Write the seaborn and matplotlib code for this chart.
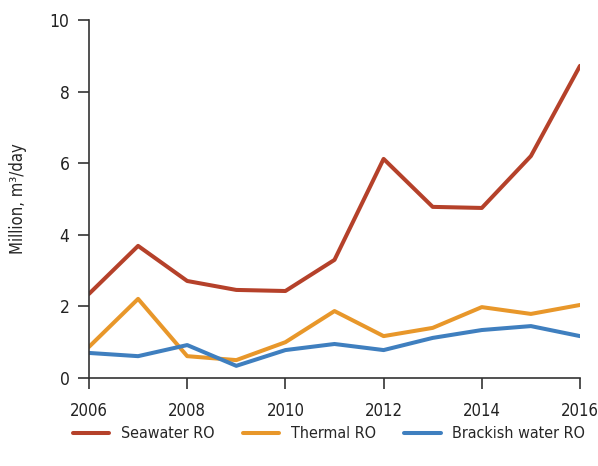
import seaborn as sns
import pandas as pd
import matplotlib.pyplot as plt

years = list(range(2006, 2017))
seawater = [2.35, 3.69, 2.71, 2.46, 2.43, 3.30, 6.12, 4.78, 4.75, 6.20, 8.72]
thermal = [0.87, 2.21, 0.61, 0.50, 1.00, 1.87, 1.17, 1.40, 1.98, 1.79, 2.04]
brackish = [0.70, 0.61, 0.92, 0.34, 0.78, 0.95, 0.78, 1.12, 1.34, 1.45, 1.17]
series_names = ['Seawater RO', 'Thermal RO', 'Brackish water RO']
colors = ['#b5412a', '#e8972a', '#3f7fbf']

df = pd.DataFrame({'year': years, series_names[0]: seawater,
                   series_names[1]: thermal, series_names[2]: brackish})
long_df = df.melt(id_vars='year', var_name='type', value_name='value')

sns.set_style('white')
plt.rcParams['font.family'] = ['DejaVu Sans']
plt.rcParams['font.stretch'] = 'condensed'

fig = plt.figure(figsize=(5.98, 4.66), dpi=100)
ax = fig.add_axes([89 / 598, 88 / 466, 491 / 598, 358 / 466])
sns.lineplot(data=long_df, x='year', y='value', hue='type', palette=colors,
             hue_order=series_names, linewidth=2.9, ax=ax)

ax.set_xlim(2006, 2016)
ax.set_ylim(0, 10)
ax.set_xticks(range(2006, 2017, 2))
ax.set_yticks(range(0, 11, 2))
ax.set_xlabel('')
ax.set_ylabel('Million, m³/day', fontsize=12, labelpad=16)
sns.despine(ax=ax)
for s in ['left', 'bottom']:
    ax.spines[s].set_color('#333333')
    ax.spines[s].set_linewidth(1.2)
ax.tick_params(axis='both', direction='out', length=8, width=1.2,
               bottom=True, left=True,
               color='#333333', labelsize=12.5, labelcolor='#222222', pad=6)
ax.tick_params(axis='x', pad=9, labelsize=12)

fig.legend(*ax.get_legend_handles_labels(), loc='center',
           bbox_to_anchor=(0.55, 32 / 466), ncol=3,
           frameon=False, fontsize=11.5, handlelength=2.3, handletextpad=0.7,
           columnspacing=1.8)
ax.get_legend().remove()

fig.savefig('out.png', dpi=100)
